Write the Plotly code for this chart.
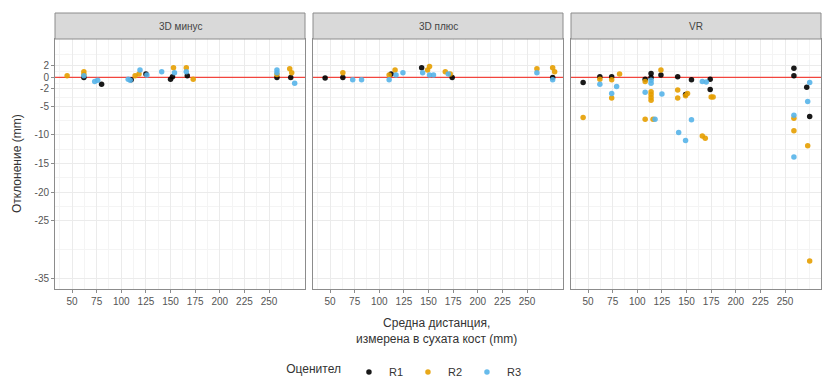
import plotly.graph_objects as go

# ---------------- data ----------------
panels = ["3D минус", "3D плюс", "VR"]
raters = ["R1", "R2", "R3"]
rater_colors = ["#000000", "#E69F00", "#56B4E9"]

y_tickvals = [2, 0, -2, -5, -10, -15, -20, -25, -35]
y_ticktext = ["2", "0", "-2", "-5", "-10", "-15", "-20", "-25", "-35"]
x_tickvals = [50, 75, 100, 125, 150, 175, 200, 225, 250]

# 3D минус
minus_r1_x = [62, 80, 110, 125, 150, 152, 167, 258, 272]
minus_r1_y = [0.0, -1.2, -0.4, 0.6, -0.3, 0.1, 0.3, 0.0, 0.0]
minus_r2_x = [45, 62, 62, 114, 118, 153, 166, 173, 258, 271, 273]
minus_r2_y = [0.3, 1.0, 0.5, 0.3, 0.6, 1.7, 1.7, -0.3, 0.5, 1.5, 0.8]
minus_r3_x = [62, 73, 76, 107, 109, 119, 126, 141, 154, 166, 258, 258, 276]
minus_r3_y = [0.3, -0.7, -0.5, -0.3, -0.5, 1.3, 0.4, 1.0, 0.8, 1.0, 1.3, 0.8, -1.0]

# 3D плюс
plus_r1_x = [45, 63, 112, 143, 174, 276]
plus_r1_y = [-0.1, 0.0, 0.6, 1.7, 0.0, 0.0]
plus_r2_x = [63, 110, 116, 149, 151, 167, 172, 260, 276, 278]
plus_r2_y = [0.8, 0.4, 1.3, 1.3, 1.9, 1.0, 0.6, 1.5, 1.7, 1.0]
plus_r3_x = [73, 82, 110, 117, 124, 144, 151, 155, 170, 260, 276]
plus_r3_y = [-0.4, -0.4, -0.4, 0.4, 0.8, 0.8, 0.4, 0.4, 0.6, 0.8, -0.4]

# VR
vr_r1_x = [45, 62, 74, 108, 114, 114, 124, 141, 149, 155, 174, 174, 259, 259, 272, 275]
vr_r1_y = [-0.9, 0.1, 0.1, -0.3, 0.7, 0.0, 0.4, 0.1, -3.0, -0.4, -0.3, -2.1, 1.6, 0.3, -1.7, -6.8]
vr_r2_x = [45, 62, 74, 74, 82, 108, 108, 114, 114, 114, 114, 116, 124, 141, 141,
           149, 151, 166, 169, 175, 177, 259, 259, 273, 275]
vr_r2_y = [-7.0, -0.3, -0.4, -3.6, 0.6, -0.7, -7.3, -2.5, -3.0, -3.5, -4.0, -7.3, 1.3, -2.2, -3.6,
           -3.2, -2.8, -10.2, -10.6, -3.4, -3.4, -7.1, -9.3, -11.9, -32.0]
vr_r3_x = [62, 74, 79, 108, 114, 114, 118, 125, 142, 149, 155, 166, 170, 259, 259, 273, 275]
vr_r3_y = [-1.2, -2.8, -1.6, -2.6, -1.0, -0.5, -7.3, -2.9, -9.6, -11.0, -7.4, -0.7, -0.8,
           -6.6, -13.9, -4.2, -0.9]

panel_data = [
    [(minus_r1_x, minus_r1_y), (minus_r2_x, minus_r2_y), (minus_r3_x, minus_r3_y)],
    [(plus_r1_x, plus_r1_y), (plus_r2_x, plus_r2_y), (plus_r3_x, plus_r3_y)],
    [(vr_r1_x, vr_r1_y), (vr_r2_x, vr_r2_y), (vr_r3_x, vr_r3_y)],
]

# ---------------- layout geometry ----------------
W, H = 822, 392
x_domains_px = [(55, 305), (313, 563), (571, 821)]
panel_top, panel_bot, strip_top = 39, 289, 13
y_domain = [1 - panel_bot / H, 1 - panel_top / H]
x_range = [32.7, 286.5]
y_range = [-36.9, 6.7]

FONT = "Liberation Sans, Arial, sans-serif"
grid_major = "#EBEBEB"
grid_minor = "#F4F4F4"
border = "#8C8C8C"

x_minor = [v for v in [37.5 + 12.5 * i for i in range(20)] if v not in x_tickvals]
y_minor = [-30, -22.5, -17.5, -12.5, -7.5, -3.5, -1, 1, 4]

fig = go.Figure()

for p in range(3):
    suffix = "" if p == 0 else str(p + 1)
    # red zero reference line
    fig.add_trace(go.Scatter(
        x=x_range, y=[0, 0], mode="lines",
        xaxis="x" + suffix, yaxis="y" + suffix,
        line=dict(color="#F2453D", width=1.2), showlegend=False, hoverinfo="skip",
    ))
    for r in range(3):
        xs, ys = panel_data[p][r]
        fig.add_trace(go.Scatter(
            x=xs, y=ys, mode="markers",
            xaxis="x" + suffix, yaxis="y" + suffix,
            marker=dict(color=rater_colors[r], size=5.5, opacity=0.9),
            name=raters[r], legendgroup=raters[r], showlegend=(p == 0),
        ))

    l, r_ = x_domains_px[p]
    fig.update_layout(**{
        "xaxis" + suffix: dict(
            domain=[l / W, r_ / W], range=x_range, anchor="y" + suffix,
            tickmode="array", tickvals=x_tickvals,
            showgrid=True, gridcolor=grid_major, gridwidth=1,
            minor=dict(tickmode="array", tickvals=x_minor, showgrid=True,
                       gridcolor=grid_minor, gridwidth=0.6, ticks=""),
            showline=True, mirror=True, linecolor=border, linewidth=1,
            ticks="outside", ticklen=3, tickcolor=border,
            tickfont=dict(family=FONT, size=10, color="#555555"),
            zeroline=False, fixedrange=True,
        ),
        "yaxis" + suffix: dict(
            domain=y_domain, range=y_range, anchor="x" + suffix,
            tickmode="array", tickvals=y_tickvals, ticktext=y_ticktext,
            showticklabels=(p == 0),
            showgrid=True, gridcolor=grid_major, gridwidth=1,
            minor=dict(tickmode="array", tickvals=y_minor, showgrid=True,
                       gridcolor=grid_minor, gridwidth=0.6, ticks=""),
            showline=True, mirror=True, linecolor=border, linewidth=1,
            ticks="outside" if p == 0 else "", ticklen=3, tickcolor=border,
            tickfont=dict(family=FONT, size=10, color="#555555"),
            zeroline=False, fixedrange=True,
        ),
    })

    # strip header
    fig.add_shape(type="rect", xref="paper", yref="paper",
                  x0=l / W, x1=r_ / W, y0=1 - panel_top / H, y1=1 - strip_top / H,
                  fillcolor="#D9D9D9", line=dict(color=border, width=1), layer="above")
    fig.add_annotation(text=panels[p], xref="paper", yref="paper",
                       x=(l + r_) / 2 / W, y=1 - (panel_top + strip_top) / 2 / H,
                       showarrow=False, xanchor="center", yanchor="middle",
                       font=dict(family=FONT, size=10, color="#444444"))

# axis titles
fig.add_annotation(text="Отклонение (mm)", xref="paper", yref="paper",
                   x=17 / W, y=1 - 164 / H, textangle=-90, showarrow=False,
                   xanchor="center", yanchor="middle",
                   font=dict(family=FONT, size=12, color="#333333"))
fig.add_annotation(text="Средна дистанция,<br>измерена в сухата кост (mm)",
                   xref="paper", yref="paper", x=436 / W, y=1 - 331 / H,
                   showarrow=False, xanchor="center", yanchor="middle",
                   font=dict(family=FONT, size=12, color="#333333"))

fig.update_layout(
    width=W, height=H,
    margin=dict(l=0, r=0, t=0, b=0),
    paper_bgcolor="white", plot_bgcolor="white",
    showlegend=True,
    legend=dict(
        orientation="h", x=0.493, xanchor="center", y=1 - 372 / H, yanchor="middle",
        title=dict(text="Оценител", side="left",
                   font=dict(family=FONT, size=12, color="#333333")),
        font=dict(family=FONT, size=11, color="#333333"),
        itemwidth=30, tracegroupgap=0,
        entrywidth=14, entrywidthmode="pixels",
        bgcolor="rgba(0,0,0,0)",
    ),
)

fig.write_html("out.html", config={"displayModeBar": False},
               post_script="document.body.style.margin='0';document.body.style.overflow='hidden';")
